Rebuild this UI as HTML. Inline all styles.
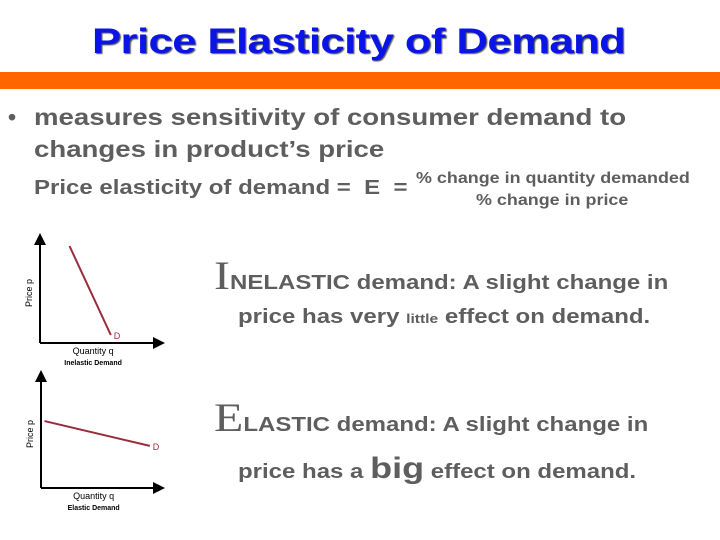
<!DOCTYPE html>
<html><head><meta charset="utf-8"><style>
body{margin:0;width:720px;height:540px;background:#fff;overflow:hidden;position:relative;font-family:"Liberation Sans",Arial,sans-serif;}
.a{position:absolute;white-space:nowrap;transform-origin:0 0;}
.g{color:#5e5e5e;font-weight:bold;}
.s{transform:scaleX(1.2);}
.f{transform:scaleX(1.12);}
</style></head><body>
<div class="a" style="left:92px;top:22px;font-size:35px;font-weight:900;color:#0a14e6;letter-spacing:-0.5px;text-shadow:1px 1px 1px #555;transform:scaleX(1.25);">Price Elasticity of Demand</div>
<div class="a" style="left:0;top:72px;width:720px;height:17px;background:#ff6600;"></div>
<div class="a g" style="left:8px;top:104px;font-size:23px;">•</div>
<div class="a g s" style="left:34px;top:104px;font-size:23px;">measures sensitivity of consumer demand to</div>
<div class="a g s" style="left:34px;top:136px;font-size:23px;">changes in product’s price</div>
<div class="a g s" style="left:34px;top:177px;font-size:20px;">Price elasticity of demand = &nbsp;E &nbsp;=</div>
<div class="a g f" style="left:416px;top:170px;font-size:16px;">% change in quantity demanded</div>
<div class="a g f" style="left:476px;top:192px;font-size:16px;">% change in price</div>
<div class="a g s" style="left:214px;top:261px;font-size:20px;"><span style="font-family:'Liberation Serif',serif;font-size:40px;font-weight:normal;line-height:30px;">I</span>NELASTIC demand: A slight change in</div>
<div class="a g s" style="left:238px;top:306px;font-size:20px;">price has very <span style="font-size:13px;">little</span> effect on demand.</div>
<div class="a g s" style="left:214px;top:403px;font-size:20px;"><span style="font-family:'Liberation Serif',serif;font-size:40px;font-weight:normal;line-height:30px;">E</span>LASTIC demand: A slight change in</div>
<div class="a g s" style="left:238px;top:452px;font-size:20px;">price has a <span style="font-size:30px;">big</span> effect on demand.</div>
<svg class="a" style="left:0;top:0" width="720" height="540">
<defs><marker id="ar" markerWidth="6" markerHeight="6" refX="5" refY="3" orient="auto"><path d="M0,0L6,3L0,6z" fill="#000"/></marker></defs>
<g id="g1"></g>
<g id="g2"></g>
</svg>
<script>
const inelasticQ=[0.25,0.6];const inelasticP=[0.97,0.08];
const elasticQ=[0.03,0.93];const elasticP=[0.62,0.39];
const NS='http://www.w3.org/2000/svg';
function mk(t,a,p){const e=document.createElementNS(NS,t);for(const k in a)e.setAttribute(k,a[k]);p.appendChild(e);return e;}
function graph(g,ox,oy,w,h,Q,P,xl,cap){
 const sx=q=>ox+q*w, sy=p=>oy-p*h;
 const y=mk('line',{x1:ox,y1:oy,x2:ox,y2:oy-h-8,stroke:'#000','stroke-width':2,'marker-end':'url(#ar)'},g);
 
 const x=mk('line',{x1:ox,y1:oy,x2:ox+w+5,y2:oy,stroke:'#000','stroke-width':2,'marker-end':'url(#ar)'},g);
 
 const l=mk('line',{x1:sx(Q[0]),y1:sy(P[0]),x2:sx(Q[1]),y2:sy(P[1]),stroke:'#9a2b3a','stroke-width':2},g);
 
 const d=mk('text',{x:sx(Q[1])+3,y:sy(P[1])+4,fill:'#9a2b3a','font-size':9},g);d.textContent='D';
 
 const t=mk('text',{x:ox+w*0.45,y:oy+11,'text-anchor':'middle','font-size':9},g);t.textContent='Quantity q';
 
 const c=mk('text',{x:ox+w*0.45,y:oy+22,'text-anchor':'middle','font-size':7,'font-weight':'bold'},g);c.textContent=cap;
 
 const yt=mk('text',{x:0,y:0,'text-anchor':'middle','font-size':9,transform:`translate(${ox-8},${oy-h/2}) rotate(-90)`},g);yt.textContent=xl;
 
}
graph(document.getElementById('g1'),40,343,118,100,inelasticQ,inelasticP,'Price p','Inelastic Demand');
graph(document.getElementById('g2'),41,488,117,108,elasticQ,elasticP,'Price p','Elastic Demand');
</script>
</body></html>
